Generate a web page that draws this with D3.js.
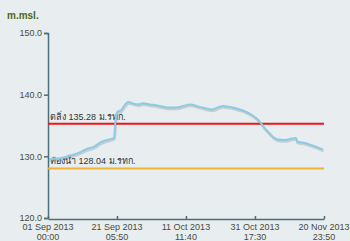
<!DOCTYPE html>
<html>
<head>
<meta charset="utf-8">
<script src="https://cdn.jsdelivr.net/npm/d3@7"></script>
<style>
    body { margin: 0; background: #e8eef0; }
    svg { display: block; font-family: "Liberation Sans", Arial, sans-serif; }
</style>
</head>
<body>
<div id="chart"></div>
<script>
// Water level readings (m.msl.)
const times = [
    '2013-09-01 07:00', '2013-09-03 01:00', '2013-09-04 12:00', '2013-09-06 00:00',
    '2013-09-08 00:00', '2013-09-09 19:00', '2013-09-11 22:00', '2013-09-14 19:00',
    '2013-09-16 07:00', '2013-09-18 07:00', '2013-09-19 19:00', '2013-09-20 10:00',
    '2013-09-20 17:00', '2013-09-21 00:00', '2013-09-21 12:00', '2013-09-22 10:00',
    '2013-09-23 14:00', '2013-09-24 12:00', '2013-09-25 22:00', '2013-09-27 10:00',
    '2013-09-28 22:00', '2013-09-30 22:00', '2013-10-03 00:00', '2013-10-05 22:00',
    '2013-10-08 19:00', '2013-10-12 17:00', '2013-10-15 14:00', '2013-10-19 02:00',
    '2013-10-22 07:00', '2013-10-25 07:00', '2013-10-28 05:00', '2013-10-31 02:00',
    '2013-11-01 14:00', '2013-11-02 19:00', '2013-11-03 22:00', '2013-11-05 02:00',
    '2013-11-06 07:00', '2013-11-07 12:00', '2013-11-09 12:00', '2013-11-11 14:00',
    '2013-11-12 19:00', '2013-11-13 02:00', '2013-11-14 19:00', '2013-11-17 19:00',
    '2013-11-20 17:00'
];
const levels = [
    129.54, 129.62, 129.70, 129.86,
    130.19, 130.52, 131.09, 131.66,
    132.23, 132.64, 132.88, 133.04,
    135.16, 136.47, 137.28, 137.45,
    138.34, 138.83, 138.59, 138.42,
    138.59, 138.42, 138.26, 137.93,
    137.93, 138.42, 138.02, 137.61,
    138.18, 137.93, 137.44, 136.63,
    135.97, 135.16, 134.35, 133.69,
    133.04, 132.72, 132.64, 132.88,
    132.96, 132.39, 132.23, 131.74,
    131.09
];

// Reference levels
const refNames = ['ตลิ่ง', 'ท้องน้ำ'];
const refValues = [135.28, 128.04];
const refColors = ['#f01418', '#f0b232'];

// Axis settings
const timeStart = '2013-09-01 00:00';
const timeEnd = '2013-11-20 23:50';
const xTickTimes = [
    '2013-09-01 00:00', '2013-09-21 05:50', '2013-10-11 11:40',
    '2013-10-31 17:30', '2013-11-20 23:50'
];
const yTicks = [120, 130, 140, 150];
const yTitle = 'm.msl.';
const unit = 'ม.รทก.';

const parseTime = d3.utcParse('%Y-%m-%d %H:%M');
const data = times.map((t, i) => ({ date: parseTime(t), value: levels[i] }));

const width = 350;
const height = 241;

const svg = d3.select('#chart').append('svg')
    .attr('width', width)
    .attr('height', height);

// Scales
const t0 = parseTime(timeStart);
const t1 = parseTime(timeEnd);
const xScale = d3.scaleUtc()
    .domain([t0, t1])
    .range([48, 324]);

const yScale = d3.scaleLinear()
    .domain([120, 150])
    .range([218, 33]);

const xTicks = xTickTimes.map(parseTime);
const fmtDate = d3.utcFormat('%d %b %Y');
const fmtTime = d3.utcFormat('%H:%M');

const axisColor = '#4a6e7c';
const labelColor = '#4a4a3a';

// Y axis
const yAxis = d3.axisLeft(yScale)
    .tickValues(yTicks)
    .tickFormat(d3.format('.1f'))
    .tickSize(4)
    .tickPadding(2);

const yAxisGroup = svg.append('g')
    .attr('transform', 'translate(48,0)')
    .call(yAxis);
yAxisGroup.select('.domain').attr('stroke', axisColor).attr('stroke-width', 1.5);
yAxisGroup.selectAll('.tick line').attr('stroke', axisColor).attr('stroke-width', 1.5);
yAxisGroup.selectAll('.tick text')
    .attr('fill', labelColor)
    .style('font-size', '9px');

// X axis
const xAxis = d3.axisBottom(xScale)
    .tickValues(xTicks)
    .tickFormat('')
    .tickSizeInner(-3)
    .tickSizeOuter(0);

const xAxisGroup = svg.append('g')
    .attr('transform', 'translate(0,219)')
    .call(xAxis);
xAxisGroup.select('.domain').attr('stroke', axisColor).attr('stroke-width', 1.5);
xAxisGroup.selectAll('.tick line').attr('stroke', axisColor).attr('stroke-width', 1.5);

const xLabels = svg.append('g')
    .selectAll('text')
    .data(xTicks)
    .enter()
    .append('text')
    .attr('x', d => xScale(d))
    .attr('y', 230)
    .attr('text-anchor', 'middle')
    .attr('fill', labelColor)
    .style('font-size', '9px');
xLabels.append('tspan').attr('x', d => xScale(d)).text(d => fmtDate(d));
xLabels.append('tspan').attr('x', d => xScale(d)).attr('dy', 10).text(d => fmtTime(d));

// Axis title
svg.append('text')
    .attr('x', 7)
    .attr('y', 19)
    .attr('fill', '#4b6a14')
    .style('font-size', '10px')
    .style('font-weight', 'bold')
    .text(yTitle);

// Reference lines
refValues.forEach((v, i) => {
    svg.append('line')
        .attr('x1', xScale(t0))
        .attr('x2', xScale(t1))
        .attr('y1', yScale(v))
        .attr('y2', yScale(v))
        .attr('stroke', refColors[i])
        .attr('stroke-width', 2);

    svg.append('text')
        .attr('x', 50)
        .attr('y', yScale(v) - 4)
        .attr('fill', '#333')
        .style('font-size', '9px')
        .text(`${refNames[i]} ${v.toFixed(2)} ${unit}`);
});

// Water level line with soft shadow
const line = d3.line()
    .x(d => xScale(d.date))
    .y(d => yScale(d.value))
    .curve(d3.curveMonotoneX);

svg.append('path')
    .datum(data)
    .attr('d', line)
    .attr('fill', 'none')
    .attr('stroke', 'rgba(90,90,90,0.22)')
    .attr('stroke-width', 2.5)
    .attr('transform', 'translate(0.5,1.5)');

svg.append('path')
    .datum(data)
    .attr('d', line)
    .attr('fill', 'none')
    .attr('stroke', '#8ccbe4')
    .attr('stroke-width', 2)
    .attr('stroke-linejoin', 'round');
</script>
</body>
</html>
